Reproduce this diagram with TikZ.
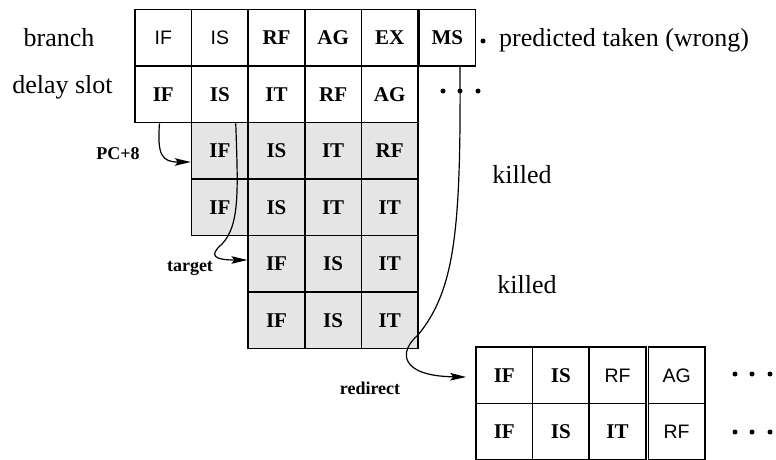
\documentclass[tikz,border=0pt]{standalone}
\usepackage{fontspec}
\setmainfont{Liberation Serif}
\newfontfamily\sansf{Liberation Sans}
\usetikzlibrary{arrows.meta}
\begin{document}
\begin{tikzpicture}[x=1pt,y=-1pt,
  cell/.style={draw, line width=1.5pt, minimum width=56.6pt, minimum height=56.5pt, inner sep=0pt, font=\fontsize{21}{21}\selectfont\bfseries},
  gcell/.style={cell, fill=black!10},
  scell/.style={cell, font=\fontsize{19.5}{20}\selectfont\sansf},
  lbl/.style={font=\fontsize{26}{26}\selectfont, anchor=base, inner sep=0pt},
  small/.style={font=\fontsize{18}{18}\selectfont\bfseries, anchor=base, inner sep=0pt},
  conn/.style={line width=1.2pt, -{Stealth[length=16pt,width=7.5pt,inset=3pt]}},
  dot/.style={circle, fill=black, inner sep=0pt, minimum size=5pt}
]
\useasboundingbox (0,0) rectangle (776,460);
% branch row
\node[scell] (b1) at (163.3,37.8) {IF};
\node[scell] (b2) at (219.9,37.8) {IS};
\node[cell]  (b3) at (276.5,37.8) {RF};
\node[cell]  (b4) at (333.1,37.8) {AG};
\node[cell]  (b5) at (389.7,37.8) {EX};
\node[cell]  (ms) at (447.3,37.8) {MS};
% delay slot row
\node[cell] (d1) at (163.3,94.3) {IF};
\node[cell] (d2) at (219.9,94.3) {IS};
\node[cell] (d3) at (276.5,94.3) {IT};
\node[cell] (d4) at (333.1,94.3) {RF};
\node[cell] (d5) at (389.7,94.3) {AG};
% gray rows
\node[gcell] (g11) at (219.9,150.8) {IF};
\node[gcell] (g12) at (276.5,150.8) {IS};
\node[gcell] (g13) at (333.1,150.8) {IT};
\node[gcell] (g14) at (389.7,150.8) {RF};
\node[gcell] (g21) at (219.9,207.3) {IF};
\node[gcell] (g22) at (276.5,207.3) {IS};
\node[gcell] (g23) at (333.1,207.3) {IT};
\node[gcell] (g24) at (389.7,207.3) {IT};
\node[gcell] (g31) at (276.5,263.8) {IF};
\node[gcell] (g32) at (333.1,263.8) {IS};
\node[gcell] (g33) at (389.7,263.8) {IT};
\node[gcell] (g41) at (276.5,320.3) {IF};
\node[gcell] (g42) at (333.1,320.3) {IS};
\node[gcell] (g43) at (389.7,320.3) {IT};
% bottom grid
\node[cell]  (r11) at (504.3,375.3) {IF};
\node[cell]  (r12) at (560.9,375.3) {IS};
\node[scell] (r13) at (617.5,375.3) {RF};
\node[scell] (r14) at (676.6,375.3) {AG};
\node[cell]  (r21) at (504.3,431.8) {IF};
\node[cell]  (r22) at (560.9,431.8) {IS};
\node[cell]  (r23) at (617.5,431.8) {IT};
\node[scell] (r24) at (676.6,431.8) {RF};
% labels
\node[lbl] (lbranch) at (59,46.5) {branch};
\node[lbl] (ldelay) at (62.5,93) {delay slot};
\node[lbl, anchor=base west] (lpred) at (499,47) {predicted taken (wrong)};
\node[lbl] (lkill1) at (522,183) {killed};
\node[lbl] (lkill2) at (527,293) {killed};
\node[small] (lpc) at (118,159) {PC+8};
\node[small] (ltarget) at (190,271) {target};
\node[small] (lredir) at (370,394) {redirect};
% dots
\node[dot] (p0) at (483,41) {};
\node[dot] (p1) at (443,91) {};
\node[dot] (p2) at (460,91) {};
\node[dot] (p3) at (478,91) {};
\node[dot] (q1) at (735,374) {};
\node[dot] (q2) at (752,374) {};
\node[dot] (q3) at (770,374) {};
\node[dot] (s1) at (735,432) {};
\node[dot] (s2) at (752,432) {};
\node[dot] (s3) at (770,432) {};
% connectors
\draw[conn] ([xshift=-3.8pt]d1.south) .. controls (157,155) and (162,162) .. ([yshift=-11.2pt]g11.west);
\draw[conn] ([xshift=-13.2pt]d2.south east) .. controls (238,190) and (240,225) .. (222,244)
  .. controls (208,256) and (215,260) .. ([yshift=3.8pt]g31.west);
\draw[conn] ([xshift=12.7pt]ms.south) .. controls (461,230) and (455,290) .. (418,335)
  .. controls (398,352) and (400,376) .. ([xshift=-9pt,yshift=-1.7pt]r11.west);
\end{tikzpicture}
\end{document}
